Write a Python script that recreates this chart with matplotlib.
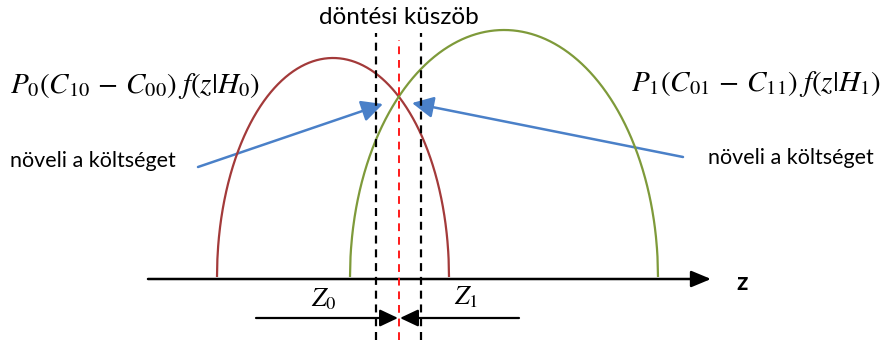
import numpy as np
import matplotlib
matplotlib.use("Agg")
import matplotlib.pyplot as plt
from matplotlib.patches import FancyArrowPatch

plt.rcParams['mathtext.fontset'] = 'stix'
plt.rcParams['font.family'] = ['Lato', 'DejaVu Sans']

# Weighted likelihood curves along z: centre, half-width, peak height
h0_curve = {"center": 333, "halfwidth": 116, "peak": 219}
h1_curve = {"center": 504, "halfwidth": 154, "peak": 247}

# Decision threshold and the shifted boundaries around it
threshold = 399
shifted_bounds = [376, 421]

# z axis extent
z_axis = [148, 711]

# Region markers under the axis
z0_span = [256, 398]
z1_span = [519, 400]

RED = "#A33A3A"
GREEN = "#7E9A3A"
BLUE = "#4A80C8"

fig = plt.figure(figsize=(8.82, 3.40), dpi=100)
ax = fig.add_axes([0, 0, 1, 1])
ax.set_xlim(0, 882)
ax.set_ylim(-61, 279)
ax.axis("off")


def half_ellipse(c):
    z = np.linspace(c["center"] - c["halfwidth"], c["center"] + c["halfwidth"], 600)
    u = (z - c["center"]) / c["halfwidth"]
    return z, c["peak"] * np.sqrt(np.clip(1 - u ** 2, 0, 1)) + 2


z, y = half_ellipse(h0_curve)
ax.plot(z, y, color=RED, lw=1.6, solid_capstyle="butt")
z, y = half_ellipse(h1_curve)
ax.plot(z, y, color=GREEN, lw=1.6, solid_capstyle="butt")

# dashed boundaries
for xb in shifted_bounds:
    ax.plot([xb, xb], [-61, 246], color="black", lw=1.6, dashes=(3.6, 2.6))
ax.plot([threshold, threshold], [-61, 239], color="#FF1A1A", lw=1.4, dashes=(4, 3))

# z axis
ax.add_patch(FancyArrowPatch((z_axis[0], 0), (z_axis[1], 0),
                             arrowstyle="-|>,head_length=12,head_width=5",
                             mutation_scale=1, color="black", lw=1.8,
                             shrinkA=0, shrinkB=0))
ax.text(742, -3, "z", fontsize=18, fontweight="bold", ha="center", va="center")

# arrows under the axis
for span in (z0_span, z1_span):
    ax.add_patch(FancyArrowPatch((span[0], -39), (span[1], -39),
                                 arrowstyle="-|>,head_length=11,head_width=5.2",
                                 mutation_scale=1, color="black", lw=1.6,
                                 shrinkA=0, shrinkB=0))
ax.text(324, -20, r"$Z_0$", fontsize=19, ha="center", va="center")
ax.text(466, -18, r"$Z_1$", fontsize=19, ha="center", va="center")

# cost annotations
ax.add_patch(FancyArrowPatch((198, 112), (383, 175),
                             arrowstyle="-|>,head_length=13,head_width=6.5",
                             mutation_scale=1, color=BLUE, lw=1.8,
                             shrinkA=0, shrinkB=0))
ax.add_patch(FancyArrowPatch((683, 122), (412, 176),
                             arrowstyle="-|>,head_length=13,head_width=6.5",
                             mutation_scale=1, color=BLUE, lw=1.8,
                             shrinkA=0, shrinkB=0))
ax.text(10, 118, "növeli a költséget", fontsize=15.5, ha="left", va="center")
ax.text(708, 121, "növeli a költséget", fontsize=15.5, ha="left", va="center")

ax.text(399, 261, "döntési küszöb", fontsize=17.5, ha="center", va="center")

ax.text(10, 193, r"$P_0(C_{10}\,-\,C_{00})\;f(z|H_0)$", fontsize=21, ha="left", va="center")
ax.text(631, 195, r"$P_1(C_{01}\,-\,C_{11})\;f(z|H_1)$", fontsize=21, ha="left", va="center")

fig.savefig("out.png", dpi=100, facecolor="white")
